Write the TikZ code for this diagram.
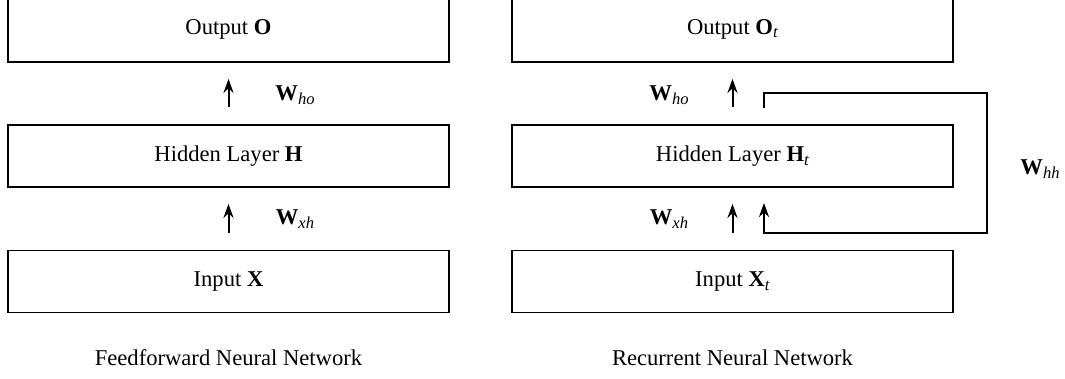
\documentclass[tikz,border=0pt]{standalone}
\usepackage{fontspec}
\setmainfont{Liberation Serif}
\usepackage{tikz}
\usetikzlibrary{positioning, calc, arrows.meta}

\tikzset{
  layer/.style={draw, line width=0.9pt, rectangle, minimum width=220.5pt, minimum height=31pt, inner sep=0pt},
  arr/.style={-{Stealth[length=7pt, width=5pt]}, line width=1pt},
  wlabel/.style={inner sep=0pt},
}
\newcommand{\txt}{\fontsize{11.3}{13.6}\selectfont}
\newcommand{\sub}[1]{\raisebox{-0.35ex}{\fontsize{8.3}{9}\selectfont\textit{#1}}}
\newcommand{\wmat}[1]{\textbf{W}\sub{#1}}

\begin{document}
\begin{tikzpicture}[x=0.5pt, y=-0.5pt, font=\txt]
        \useasboundingbox (0,0) rectangle (1065,379);

        % Feedforward network
        \node[layer, minimum height=33pt] (out1) at (228.5,29) {Output \textbf{O}};
        \node[layer] (hid1) at (228.5,156) {Hidden Layer \textbf{H}};
        \node[layer] (in1) at (228.5,281.5) {Input \textbf{X}};
        \draw[arr, shorten <=8.5pt, shorten >=8pt] (hid1) -- (out1);
        \draw[arr, shorten <=8.5pt, shorten >=8pt] (in1) -- (hid1);
        \node[wlabel] (who1) at (295,95) {\wmat{ho}};
        \node[wlabel] (wxh1) at (295,219) {\wmat{xh}};
        \node (cap1) at (228.5,358) {Feedforward Neural Network};

        % Recurrent network
        \node[layer, minimum height=33pt] (out2) at (732.5,29) {Output \textbf{O}\sub{t}};
        \node[layer] (hid2) at (732.5,156) {Hidden Layer \textbf{H}\sub{t}};
        \node[layer] (in2) at (732.5,281.5) {Input \textbf{X}\sub{t}};
        \draw[arr, shorten <=8.5pt, shorten >=8pt] (hid2) -- (out2);
        \draw[arr, shorten <=8.5pt, shorten >=8pt] (in2) -- (hid2);
        \node[wlabel] (who2) at (669,95) {\wmat{ho}};
        \node[wlabel] (wxh2) at (669,219) {\wmat{xh}};
        \node (cap2) at (732.5,358) {Recurrent Neural Network};

        % Loop back into the hidden layer
        \coordinate (fbout) at (764,108);
        \coordinate (fbin) at (764,203);
        \draw[arr] (fbout) -- ++(0,-15) -| (987,233) -| (fbin);
        \node[wlabel] (whh) at (1040,169) {\wmat{hh}};
\end{tikzpicture}
\end{document}
